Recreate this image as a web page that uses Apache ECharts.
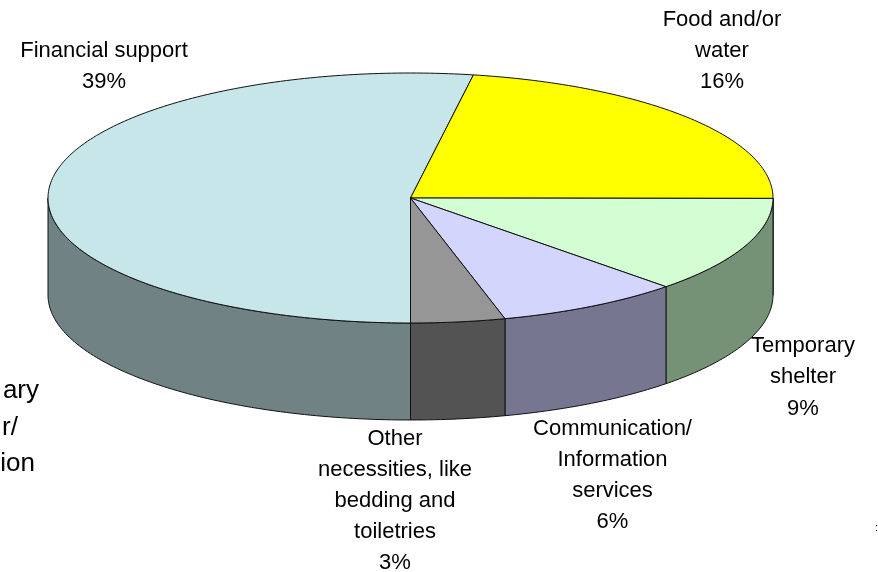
<!DOCTYPE html>
<html>
<head>
<meta charset="utf-8">
<style>html,body{margin:0;padding:0;background:#fff}#c{width:878px;height:572px}</style>
<script src="https://cdn.jsdelivr.net/npm/echarts@6/dist/echarts.min.js"></script>
</head>
<body>
<div id="c"></div>
<script>
const categories = ['Financial support', 'Food and/or\nwater', 'Temporary\nshelter', 'Communication/\nInformation\nservices', 'Other\nnecessities, like\nbedding and\ntoiletries'];
const sliceValues = [38.5, 16.25, 9.12, 6.02, 3.06];
const topColors = ['#C7E6EA', '#FFFF00', '#D3FDD3', '#D4D5FD', '#969696'];
const wallColors = ['#708284', '#808000', '#769276', '#767691', '#535353'];
const clippedLeftText = ['ary', 'r/', 'ion'];
const clippedRightText = [':'];

const CX = 410.5, CY = 198, RX = 362.5, RY = 125, DEPTH = 97, EDGE = '#111';
const total = sliceValues.reduce((a, b) => a + b, 0);
function pt(t, dy) {
  const r = t * Math.PI / 180;
  return [CX - RX * Math.sin(r), CY + RY * Math.cos(r) + (dy || 0)];
}
function arc(a, b, dy) {
  const out = [], n = Math.max(2, Math.ceil(Math.abs(b - a) / 1));
  for (let i = 0; i <= n; i++) out.push(pt(a + (b - a) * i / n, dy));
  return out;
}
function wall(a, b, fill) {
  const pts = arc(a, b, 0).concat(arc(b, a, DEPTH));
  return { type: 'polygon', z2: 1, shape: { points: pts }, style: { fill: fill, stroke: EDGE, lineWidth: 1 } };
}
function renderItem(params, api) {
  const i = params.dataIndex;
  let start = 0;
  for (let k = 0; k < i; k++) start += sliceValues[k] / total * 360;
  const end = start + api.value(0) / total * 360;
  const children = [];
  const lo = Math.max(start, 0), hi = Math.min(end, 90);
  if (hi > lo) children.push(wall(lo, hi, wallColors[i]));
  const lo2 = Math.max(start, 270), hi2 = Math.min(end, 360);
  if (hi2 > lo2) children.push(wall(lo2, hi2, wallColors[i]));
  children.push({
    type: 'polygon', z2: 2,
    shape: { points: [[CX, CY]].concat(arc(start, end, 0)) },
    style: { fill: topColors[i], stroke: EDGE, lineWidth: 1 }
  });
  return { type: 'group', children: children };
}
const labelPlaces = [
  { x: 104, y: 35 }, { x: 722, y: 4 }, { x: 803, y: 330 }, { x: 612.5, y: 413 }, { x: 395, y: 423 }
];
const FONT = '"Liberation Sans", Arial, sans-serif';
const graphics = categories.map((c, i) => ({
  type: 'text', x: labelPlaces[i].x, y: labelPlaces[i].y,
  style: {
    text: c + '\n' + Math.round(sliceValues[i]) + '%',
    font: '22px ' + FONT, lineHeight: [31, 31, 31.5, 31, 31][i], fill: '#000',
    textAlign: 'center', textVerticalAlign: 'top'
  }
}));
const clipRight = [39, 18, 35], clipY = [378, 415, 451];
clippedLeftText.forEach((t, i) => graphics.push({
  type: 'text', x: clipRight[i], y: clipY[i],
  style: { text: t, font: '26px ' + FONT, fill: '#000', textAlign: 'right', textVerticalAlign: 'top' }
}));
graphics.push({
  type: 'text', x: 878, y: 522,
  style: { text: clippedRightText[0], font: '11px ' + FONT, fill: '#000', textAlign: 'right', textVerticalAlign: 'top' }
});

const chart = echarts.init(document.getElementById('c'), null, { renderer: 'canvas' });
chart.setOption({
  animation: false,
  backgroundColor: '#fff',
  graphic: { elements: graphics },
  series: [{
    type: 'custom',
    coordinateSystem: 'none',
    silent: true,
    renderItem: renderItem,
    data: sliceValues.map((v, i) => ({ name: categories[i].replace(/\n/g, ' '), value: [v] }))
  }]
});
</script>
</body>
</html>
